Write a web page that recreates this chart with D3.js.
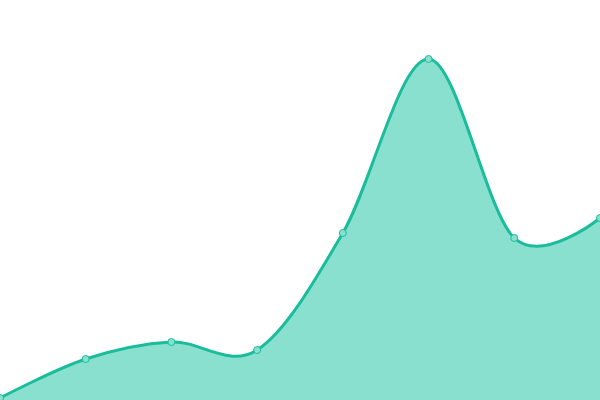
<!DOCTYPE html>
<html>
<head>
<meta charset="utf-8">
<script src="https://cdn.jsdelivr.net/npm/d3@7"></script>
<style>
  html, body { margin: 0; padding: 0; background: #fff; }
  svg { display: block; }
</style>
</head>
<body>
<div id="chart"></div>
<script>
// data
var categories = ['A', 'B', 'C', 'D', 'E', 'F', 'G', 'H'];
var values = [2, 41, 58, 50, 167, 341, 162, 182];

var width = 600,
    height = 400;

var svg = d3.select('#chart').append('svg')
  .attr('width', width)
  .attr('height', height);

var x = d3.scalePoint()
  .domain(categories)
  .range([0, width]);

var y = d3.scaleLinear()
  .domain([0, 400])
  .range([height, 0]);

var data = categories.map(function(c, i) { return { cat: c, value: values[i] }; });

var curve = d3.curveCardinal.tension(0);

var area = d3.area()
  .x(function(d) { return x(d.cat); })
  .y0(height)
  .y1(function(d) { return y(d.value); })
  .curve(curve);

var line = d3.line()
  .x(function(d) { return x(d.cat); })
  .y(function(d) { return y(d.value); })
  .curve(curve);

svg.append('path')
  .datum(data)
  .attr('d', area)
  .attr('fill', '#8ae0cf');

svg.append('path')
  .datum(data)
  .attr('d', line)
  .attr('fill', 'none')
  .attr('stroke', '#1abc9c')
  .attr('stroke-width', 3);

svg.selectAll('.dot')
  .data(data)
  .enter().append('circle')
  .attr('class', 'dot')
  .attr('cx', function(d) { return x(d.cat); })
  .attr('cy', function(d) { return y(d.value); })
  .attr('r', 3.5)
  .attr('fill', '#8ae0cf')
  .attr('stroke', '#1abc9c')
  .attr('stroke-width', 1);
</script>
</body>
</html>
